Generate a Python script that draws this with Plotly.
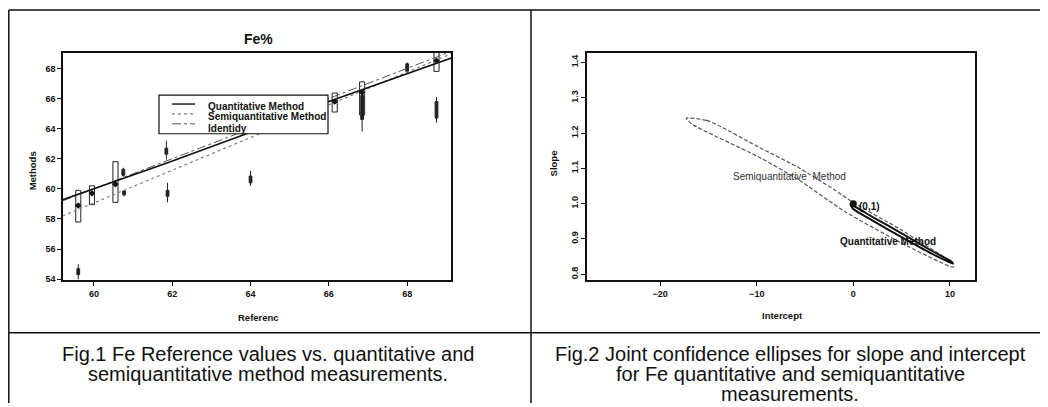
import plotly.graph_objects as go

# page body has an 8px margin: the figure is sized to fill the rest of the window
OFF = 8
W, H = 1048 - OFF, 407 - OFF

# ---------------- Fig.1 data ----------------
quant_box_x = [59.6, 59.95, 60.55, 66.15, 66.85, 68.75]
quant_box_low = [57.8, 58.95, 59.1, 65.1, 64.9, 67.8]
quant_box_high = [59.9, 60.2, 61.8, 66.36, 67.1, 69.1]
quant_box_med = [58.9, 59.7, 60.3, 65.8, 66.4, 68.5]

semi_bar_x = [59.6, 60.75, 60.77, 61.85, 61.88, 64.0, 66.85, 68.0, 68.75]
semi_bar_low = [54.0, 60.8, 59.5, 61.95, 59.1, 60.2, 63.8, 67.7, 64.4]
semi_bar_q1 = [54.3, 60.9, 59.6, 62.3, 59.5, 60.4, 64.6, 67.8, 64.7]
semi_bar_med = [54.5, 61.1, 59.7, 62.5, 59.7, 60.6, 65.2, 68.05, 65.2]
semi_bar_q3 = [54.7, 61.3, 59.85, 62.7, 59.9, 60.85, 66.2, 68.3, 65.8]
semi_bar_high = [55.0, 61.4, 59.9, 63.2, 60.4, 61.2, 66.6, 68.4, 66.1]

quant_line_x = [59.2, 61.9, 64.0, 66.0, 69.2]
quant_line_y = [59.28, 61.75, 63.75, 65.8, 68.75]
semi_line_x = [59.2, 64.0, 69.2]
semi_line_y = [58.2, 63.4, 69.05]
ident_x = [59.2, 69.2]
ident_y = [59.2, 69.2]

fig1_xticks = [60, 62, 64, 66, 68]
fig1_yticks = [54, 56, 58, 60, 62, 64, 66, 68]

# ---------------- Fig.2 data ----------------
semi_ell_a = [-17.3, -15.2, -14.0, -10.0, -5.8, -2.0, 0.0, 5.0, 10.3, 10.4,
              10.3, 5.65, -0.9, -5.8, -10.0, -16.7, -17.3]
semi_ell_b = [1.242, 1.236, 1.222, 1.163, 1.104, 1.040, 1.003, 0.925, 0.830, 0.823,
              0.820, 0.879, 0.978, 1.070, 1.135, 1.225, 1.242]
quant_ell_a = [-0.3, 2.0, 5.0, 8.0, 10.2, 10.3, 8.0, 5.0, 2.0, 0.0, -0.3]
quant_ell_b = [0.998, 0.962, 0.916, 0.868, 0.835, 0.830, 0.860, 0.905, 0.952, 0.985, 0.998]
ref_point = (0, 1.0)

fig2_xticks = [-20, -10, 0, 10]
fig2_yticks = [0.8, 0.9, 1.0, 1.1, 1.2, 1.3, 1.4]

caption1 = ["Fig.1 Fe Reference values vs. quantitative and",
            "semiquantitative method measurements."]
caption2 = ["Fig.2 Joint confidence ellipses for slope and intercept",
            "for Fe quantitative and semiquantitative",
            "measurements."]

FONT = "Liberation Sans, Arial, sans-serif"
INK = "#111111"


def px(v):
    return (v - OFF) / W


def py(v):
    return 1 - (v - OFF) / H


fig = go.Figure()

# Fig.1 traces
fig.add_trace(go.Scatter(x=ident_x, y=ident_y, mode="lines", xaxis="x", yaxis="y",
                         line=dict(color="#555555", width=1, dash="dashdot"), showlegend=False))
fig.add_trace(go.Scatter(x=semi_line_x, y=semi_line_y, mode="lines", xaxis="x", yaxis="y",
                         line=dict(color="#808080", width=1.2, dash="dot"), showlegend=False))
fig.add_trace(go.Scatter(x=quant_line_x, y=quant_line_y, mode="lines", xaxis="x", yaxis="y",
                         line=dict(color=INK, width=1.6), showlegend=False))
fig.add_trace(go.Box(x=quant_box_x, q1=quant_box_low, median=quant_box_med, q3=quant_box_high,
                     lowerfence=quant_box_low, upperfence=quant_box_high,
                     xaxis="x", yaxis="y", width=0.13, whiskerwidth=0,
                     fillcolor="white", line=dict(color="#222222", width=1),
                     boxpoints=False, showlegend=False, hoverinfo="skip"))
fig.add_trace(go.Scatter(x=quant_box_x, y=quant_box_med, mode="markers", xaxis="x", yaxis="y",
                         marker=dict(symbol="diamond", size=5, color=INK), showlegend=False))
fig.add_trace(go.Box(x=semi_bar_x, q1=semi_bar_q1, median=semi_bar_med, q3=semi_bar_q3,
                     lowerfence=semi_bar_low, upperfence=semi_bar_high,
                     xaxis="x", yaxis="y", width=0.07, whiskerwidth=0,
                     fillcolor="#222222", line=dict(color="#222222", width=1),
                     boxpoints=False, showlegend=False, hoverinfo="skip"))

# Fig.2 traces
fig.add_trace(go.Scatter(x=semi_ell_a, y=semi_ell_b, mode="lines", xaxis="x2", yaxis="y2",
                         line=dict(color="#555555", width=1.2, dash="4px,2px", shape="spline",
                                   smoothing=0.6), showlegend=False))
fig.add_trace(go.Scatter(x=quant_ell_a, y=quant_ell_b, mode="lines", xaxis="x2", yaxis="y2",
                         line=dict(color=INK, width=2, shape="spline", smoothing=0.6),
                         showlegend=False))
fig.add_trace(go.Scatter(x=[ref_point[0]], y=[ref_point[1]], mode="markers", xaxis="x2", yaxis="y2",
                         marker=dict(symbol="circle", size=7, color=INK), showlegend=False))

axis_common = dict(showline=True, mirror=True, linecolor=INK, linewidth=1.5,
                   ticks="outside", ticklen=4, tickcolor=INK, tickwidth=1,
                   showgrid=False, zeroline=False,
                   tickfont=dict(family=FONT, size=9, color=INK, weight="bold"))

fig.update_layout(
    width=W, height=H, autosize=False,
    margin=dict(l=0, r=0, t=0, b=0),
    paper_bgcolor="white", plot_bgcolor="white",
    boxmode="overlay",
    xaxis=dict(domain=[px(63), px(451)], range=[59.21, 69.12], tickvals=fig1_xticks,
               anchor="y", **axis_common),
    yaxis=dict(domain=[py(283), py(53)], range=[53.93, 69.05], tickvals=fig1_yticks,
               anchor="x", **axis_common),
    xaxis2=dict(domain=[px(587), px(975)], range=[-27.58, 12.6], tickvals=fig2_xticks,
                anchor="y2", **axis_common),
    yaxis2=dict(domain=[py(283), py(53)], range=[0.783, 1.428], tickvals=fig2_yticks,
                tickformat=".1f", tickangle=-90, anchor="x2", **axis_common),
)

border = dict(color=INK, width=1.5)
shapes = [
    # table borders
    dict(type="line", xref="paper", yref="paper", x0=px(8.8), x1=1, y0=py(10), y1=py(10), line=border),
    dict(type="line", xref="paper", yref="paper", x0=px(8.8), x1=1, y0=py(336), y1=py(336), line=border),
    dict(type="line", xref="paper", yref="paper", x0=px(8.8), x1=px(8.8), y0=py(10), y1=0, line=border),
    dict(type="line", xref="paper", yref="paper", x0=px(531), x1=px(531), y0=py(10), y1=0, line=border),
    # legend box
    dict(type="rect", xref="paper", yref="paper", x0=px(159), x1=px(328), y0=py(135), y1=py(96),
         fillcolor="white", line=dict(color=INK, width=1.2), layer="above"),
    dict(type="line", xref="paper", yref="paper", x0=px(172), x1=px(195), y0=py(105), y1=py(105),
         line=dict(color=INK, width=1.4), layer="above"),
    dict(type="line", xref="paper", yref="paper", x0=px(172), x1=px(195), y0=py(115), y1=py(115),
         line=dict(color="#808080", width=1.2, dash="dot"), layer="above"),
    dict(type="line", xref="paper", yref="paper", x0=px(172), x1=px(195), y0=py(125), y1=py(125),
         line=dict(color="#555555", width=1, dash="dashdot"), layer="above"),
]
fig.update_layout(shapes=shapes)

small = dict(family=FONT, size=9.5, color=INK, weight="bold")
label = dict(family=FONT, size=10, color=INK, weight="bold")
cap = dict(family=FONT, size=20, color=INK)
ann = [
    dict(text="Fe%", x=px(258), y=py(39), font=dict(family=FONT, size=14, color=INK, weight="bold")),
    dict(text="Methods", x=px(32), y=py(173), textangle=-90, font=small),
    dict(text="Referenc", x=px(258), y=py(321), font=small),
    dict(text="Slope", x=px(553), y=py(165), textangle=-90, font=small),
    dict(text="Intercept", x=px(782), y=py(319), font=small),
    dict(text="Quantitative Method", x=px(206), y=py(107), xanchor="left", font=label),
    dict(text="Semiquantitative Method", x=px(206), y=py(118), xanchor="left", font=label),
    dict(text="Identidy", x=px(206), y=py(130), xanchor="left", font=label),
]
for i, line in enumerate(caption1):
    ann.append(dict(text=line, x=px(268), y=py(357 + 21 * i), font=cap))
for i, line in enumerate(caption2):
    ann.append(dict(text=line, x=px(790), y=py(357 + 20.5 * i), font=cap))
for a in ann:
    a.setdefault("xref", "paper")
    a.setdefault("yref", "paper")
    a.setdefault("showarrow", False)
    a.setdefault("xanchor", "center")
    a.setdefault("yanchor", "middle")
ann += [
    dict(text="(0,1)", x=0.4, y=0.992, xref="x2", yref="y2", xanchor="left", yanchor="middle",
         showarrow=False, font=label),
    dict(text="Semiquantitative  Method", x=-6.6, y=1.077, xref="x2", yref="y2", showarrow=False,
         font=dict(family=FONT, size=10, color="#333333")),
    dict(text="Quantitative Method", x=3.6, y=0.893, xref="x2", yref="y2", showarrow=False,
         font=label),
]
fig.update_layout(annotations=ann)

fig.write_html("out.html")
